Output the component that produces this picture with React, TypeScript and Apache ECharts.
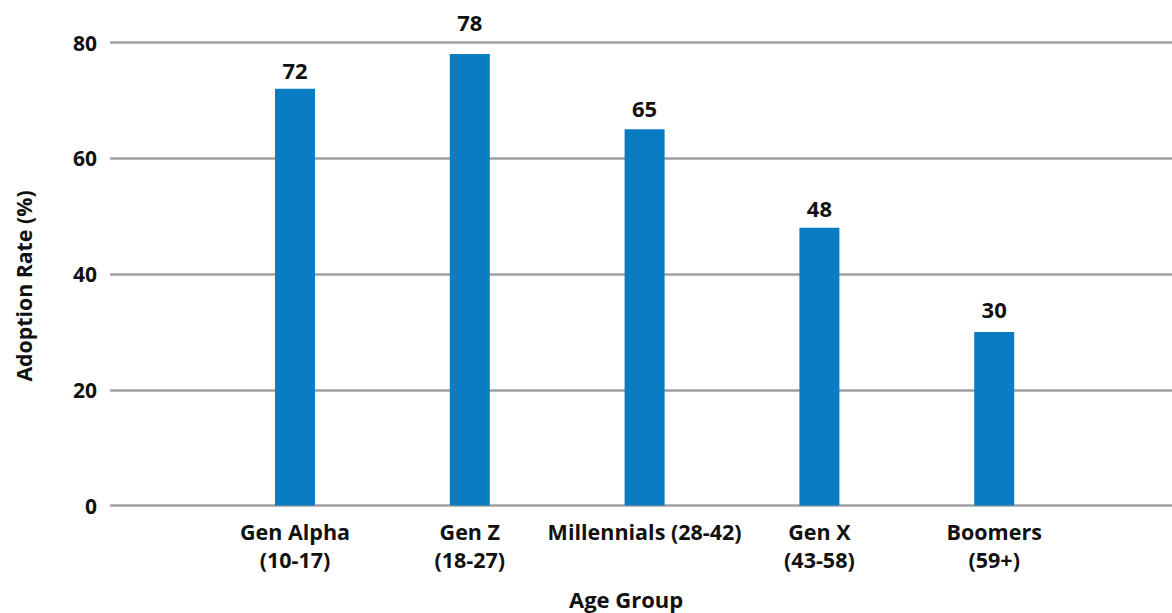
import React, { useEffect, useRef } from "react";
import * as echarts from "echarts";

const categories = [
  "Gen Alpha\n(10-17)",
  "Gen Z\n(18-27)",
  "Millennials (28-42)",
  "Gen X\n(43-58)",
  "Boomers\n(59+)",
];
const adoption = [72, 78, 65, 48, 30];
const yTicks = { min: 0, max: 80, interval: 20 };
// gap (px) between each bar top and its value label, as seen in the reference
const labelGaps = [8, 21, 10, 9, 12];

const FONT = "'Open Sans', 'Noto Sans', sans-serif";

export default function App() {
  const ref = useRef<HTMLDivElement>(null);
  useEffect(() => {
    if (!ref.current) return;
    const chart = echarts.init(ref.current, undefined, { renderer: "svg" });
    chart.setOption({
      animation: false,
      backgroundColor: "#ffffff",
      grid: [
        { left: 110, right: 0, top: 42.5, bottom: 107.5, outerBoundsMode: "none", containLabel: false },
        { left: 207.6, width: 874, top: 42.5, bottom: 107.5, outerBoundsMode: "none", containLabel: false },
      ],
      xAxis: [
        { type: "value", gridIndex: 0, show: false, min: 0, max: 1 },
        {
          type: "category",
          gridIndex: 1,
          data: categories,
          axisLine: { show: false },
          axisTick: { show: false },
          axisLabel: {
            interval: 0,
            margin: 12,
            fontFamily: FONT,
            fontWeight: "bold",
            fontSize: 21.5,
            lineHeight: 28,
            color: "#111",
          },
          name: "Age Group",
          nameLocation: "middle",
          nameGap: 81,
          nameTextStyle: {
            fontFamily: FONT,
            fontWeight: "bold",
            fontSize: 22,
            lineHeight: 24,
            color: "#111",
            padding: [0, 37, 0, 0],
          },
        },
      ],
      yAxis: [
        {
          type: "value",
          gridIndex: 0,
          min: yTicks.min,
          max: yTicks.max,
          interval: yTicks.interval,
          axisLine: { show: false },
          axisTick: { show: false },
          splitLine: { lineStyle: { color: "#a0a0a4", width: 2.5 } },
          axisLabel: {
            margin: 13,
            fontFamily: FONT,
            fontWeight: "bold",
            fontSize: 21,
            color: "#111",
          },
          name: "Adoption Rate (%)",
          nameLocation: "middle",
          nameGap: 76,
          nameTextStyle: {
            fontFamily: FONT,
            fontWeight: "bold",
            fontSize: 21.3,
            color: "#111",
            padding: [0, 24, 0, 0],
          },
        },
        {
          type: "value",
          gridIndex: 1,
          min: yTicks.min,
          max: yTicks.max,
          interval: yTicks.interval,
          show: false,
          splitLine: { show: false },
        },
      ],
      series: [
        {
          type: "bar",
          xAxisIndex: 1,
          yAxisIndex: 1,
          data: adoption.map((v, i) => ({ value: v, label: { distance: labelGaps[i] } })),
          barWidth: 40,
          itemStyle: { color: "#0a7cc1" },
          label: {
            show: true,
            position: "top",
            distance: 8,
            fontFamily: FONT,
            fontWeight: "bold",
            fontSize: 22,
            color: "#111",
          },
        },
      ],
    });
    return () => chart.dispose();
  }, []);
  return (
    <div
      ref={ref}
      style={{ position: "absolute", left: 0, top: 0, width: 1172, height: 613 }}
    />
  );
}
